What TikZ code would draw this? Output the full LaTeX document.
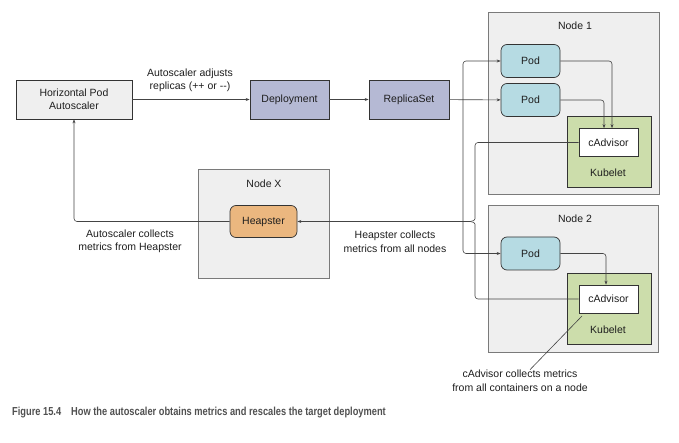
\documentclass[tikz,border=0pt]{standalone}
\usepackage{fontspec}
\setmainfont{Liberation Sans}
\newfontfamily\capfont[FakeStretch=0.8]{Liberation Sans Bold}
\usetikzlibrary{arrows.meta}
\definecolor{nodebg}{HTML}{EFEFEF}
\definecolor{nodeedge}{HTML}{7A7A7A}
\definecolor{deploy}{HTML}{B5B9D4}
\definecolor{podc}{HTML}{B6DBE3}
\definecolor{kubc}{HTML}{CCDDAB}
\definecolor{heapc}{HTML}{EBB77F}
\definecolor{linec}{HTML}{444444}
\definecolor{txt}{HTML}{1E1E1E}
\definecolor{capc}{HTML}{505050}
\tikzset{
  base/.style={font=\fontsize{10.5}{12.5}\selectfont, text=txt, align=center, inner sep=0pt},
  plainbox/.style={base, draw=black!80, line width=0.7pt},
  hostbox/.style={base, draw=nodeedge, fill=nodebg, line width=0.7pt},
  podbox/.style={plainbox, fill=podc, rounded corners=6pt, minimum width=59pt, minimum height=33pt},
  kubbox/.style={plainbox, fill=kubc, minimum width=84pt, minimum height=71pt},
  cadbox/.style={plainbox, fill=white, minimum width=59pt, minimum height=28pt},
  lbl/.style={base},
  conn/.style={draw=linec, line width=0.6pt},
  arr/.style={conn, -{Stealth[length=4pt,width=3pt]}},
}
\begin{document}
\begin{tikzpicture}[x=1pt,y=-1pt]
\useasboundingbox (0,0) rectangle (679,443);
% hosts
\node[hostbox, minimum width=171pt, minimum height=182pt] (node1) at (573.5,103) {};
\node[lbl] (node1l) at (575,26) {Node 1};
\node[hostbox, minimum width=170pt, minimum height=147pt] (node2) at (573,278.5) {};
\node[lbl] (node2l) at (575,219) {Node 2};
\node[hostbox, minimum width=131pt, minimum height=109pt] (nodex) at (263.5,223.5) {};
\node[lbl] (nodexl) at (264,184) {Node X};
% main boxes
\node[plainbox, fill=nodebg, minimum width=116pt, minimum height=39pt] (hpa) at (74,99.5) {Horizontal Pod\\[1pt]Autoscaler};
\node[plainbox, fill=deploy, minimum width=79pt, minimum height=39pt] (dep) at (289.5,99.5) {Deployment};
\node[plainbox, fill=deploy, minimum width=80pt, minimum height=39pt] (rs) at (409,99.5) {ReplicaSet};
% node 1 contents
\node[podbox] (pod1a) at (530.5,61) {Pod};
\node[podbox] (pod1b) at (530.5,100) {Pod};
\node[kubbox] (kub1) at (609,152) {};
\node[lbl] (kub1l) at (608,173) {Kubelet};
\node[cadbox] (cad1) at (608.5,142.5) {cAdvisor};
% node 2 contents
\node[podbox] (pod2) at (530.5,253.5) {Pod};
\node[kubbox] (kub2) at (609,308.5) {};
\node[lbl] (kub2l) at (608,330) {Kubelet};
\node[cadbox] (cad2) at (608.5,299) {cAdvisor};
% heapster
\node[plainbox, fill=heapc, rounded corners=6pt, minimum width=67pt, minimum height=32pt] (heap) at (263.5,221.5) {Heapster};
% labels
\node[lbl] (l1) at (190,80.5) {Autoscaler adjusts\\[1pt]replicas (++ or {-}{-})};
\node[lbl] (l2) at (130,241.5) {Autoscaler collects\\[1pt]metrics from Heapster};
\node[lbl] (l3) at (395,241.5) {Heapster collects\\[1pt]metrics from all nodes};
\node[lbl] (anno) at (520,380.5) {cAdvisor collects metrics\\[1pt]from all containers on a node};
% connectors
\draw[arr] (hpa) -- (dep);
\draw[arr] (dep) -- (rs);
\draw[arr] (rs) -- (pod1b);
\coordinate (j) at (463,100);
\draw[arr, rounded corners=3pt] (j) |- (pod1a.west);
\draw[arr, rounded corners=3pt] (j) |- (pod2.west);
\draw[arr, rounded corners=3pt] (pod1a.east) -| ([xshift=3.5pt]cad1.north);
\draw[arr, rounded corners=3pt] (pod1b.east) -| ([xshift=-4.5pt]cad1.north);
\draw[arr, rounded corners=3pt] (pod2.east) -| ([xshift=-2.5pt]cad2.north);
\coordinate (tip) at (470,221.5);
\draw[conn, rounded corners=3pt] (cad1.west) -| (475,216) .. controls (475,220) and (473,221.5) .. (tip);
\draw[conn, rounded corners=3pt] (cad2.west) -| (475,227) .. controls (475,223) and (473,221.5) .. (tip);
\draw[arr] (tip) -- (heap.east);
\draw[arr, rounded corners=3pt] (heap.west) -| (hpa.south);
\coordinate (annoend) at (582,316);
\draw[conn] ([xshift=10pt]anno.north) -- (annoend);
% caption
\node[anchor=west, inner sep=0pt, text=capc, font=\capfont\fontsize{11.6}{13}\selectfont] (cap) at (12,413) {Figure 15.4\hspace{10pt}How the autoscaler obtains metrics and rescales the target deployment};
\end{tikzpicture}
\end{document}
